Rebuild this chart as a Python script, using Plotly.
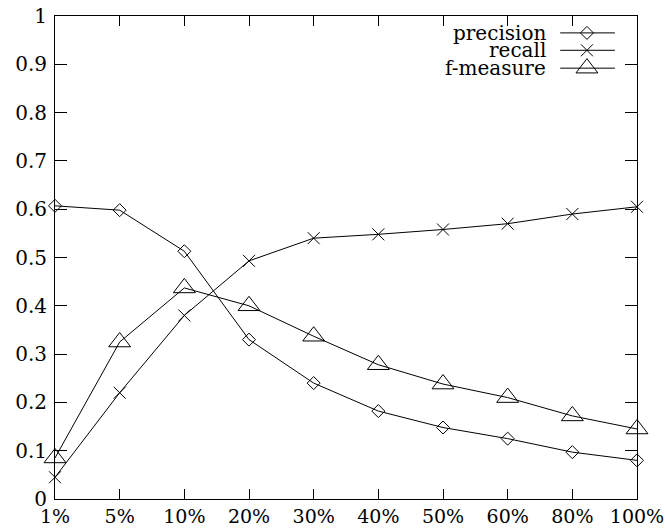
import plotly.graph_objects as go

categories = ["1%", "5%", "10%", "20%", "30%", "40%", "50%", "60%", "80%", "100%"]
precision = [0.607, 0.598, 0.513, 0.330, 0.240, 0.182, 0.148, 0.125, 0.097, 0.080]
recall = [0.045, 0.220, 0.380, 0.493, 0.540, 0.548, 0.558, 0.570, 0.590, 0.605]
f_measure = [0.085, 0.325, 0.437, 0.400, 0.337, 0.278, 0.238, 0.210, 0.172, 0.145]
series_names = ["precision", "recall", "f-measure"]
y_ticks = [0, 0.1, 0.2, 0.3, 0.4, 0.5, 0.6, 0.7, 0.8, 0.9, 1]

FONT = "DejaVu Serif"
symbols = ["diamond-open", "x-thin-open", "triangle-up-open"]
sizes = [10, 12, 19]

fig = go.Figure()
for name, vals, sym, sz in zip(series_names, [precision, recall, f_measure], symbols, sizes):
    fig.add_trace(go.Scatter(
        x=categories, y=vals, mode="lines+markers", name=name,
        line=dict(color="black", width=1),
        marker=dict(symbol=sym, size=sz, color="black",
                    line=dict(color="black", width=1)),
        showlegend=False, cliponaxis=False))

# custom legend (text on the left, sample on the right like gnuplot)
leg_y = [0.965, 0.929, 0.892]
for name, sym, sz, ly in zip(series_names, symbols, sizes, leg_y):
    fig.add_annotation(x=0.847, y=ly, xref="paper", yref="paper",
                       text=name, showarrow=False, xanchor="right", yanchor="middle",
                       font=dict(family=FONT, size=20, color="black"))
    fig.add_shape(type="line", xref="paper", yref="paper",
                  x0=0.868, x1=0.962, y0=ly, y1=ly,
                  line=dict(color="black", width=1))
    fig.add_trace(go.Scatter(
        x=[0.914], y=[ly], xaxis="x2", yaxis="y2", mode="markers",
        marker=dict(symbol=sym, size=sz, color="black", line=dict(color="black", width=1)),
        showlegend=False, hoverinfo="skip"))

fig.update_layout(
    width=667, height=528,
    margin=dict(l=55, r=30, t=16, b=29),
    paper_bgcolor="white", plot_bgcolor="white",
    font=dict(family=FONT, size=20, color="black"),
    xaxis=dict(type="category", range=[0, 9], showgrid=False, zeroline=False,
               showline=True, linecolor="black", linewidth=1, mirror="ticks",
               ticks="inside", ticklen=10, tickcolor="black", tickwidth=1,
               ticklabelstandoff=0, automargin=False,
               tickfont=dict(family=FONT, size=19)),
    yaxis=dict(range=[0, 1], tickvals=y_ticks, showgrid=False, zeroline=False,
               showline=True, linecolor="black", linewidth=1, mirror="ticks",
               ticks="inside", ticklen=12, tickcolor="black", tickwidth=1,
               ticklabelstandoff=3, automargin=False,
               tickfont=dict(family=FONT, size=20)),
    xaxis2=dict(range=[0, 1], overlaying="x", visible=False),
    yaxis2=dict(range=[0, 1], overlaying="y", visible=False),
)

fig.write_html("out.html", config={"displayModeBar": False},
               post_script="document.body.style.margin='0px';")
